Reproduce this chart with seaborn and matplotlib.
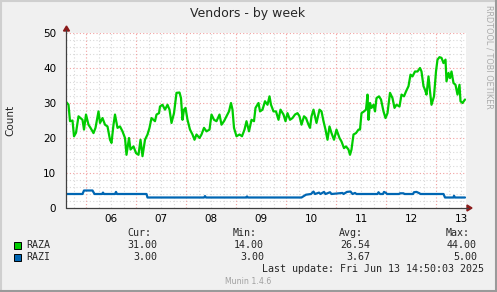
import numpy as np
import pandas as pd
import matplotlib
matplotlib.use("Agg")
import matplotlib.pyplot as plt
import seaborn as sns
from matplotlib.patches import Rectangle, Polygon
from matplotlib.lines import Line2D

# ---------------- data (time in fractional June days) ----------------
raza_t = [5.61, 5.65, 5.68, 5.73, 5.76, 5.80, 5.85, 5.89, 5.93, 5.96,
          6.00, 6.05, 6.09, 6.15, 6.19, 6.25, 6.28, 6.33, 6.38, 6.43,
          6.48, 6.51, 6.55, 6.58, 6.63, 6.68, 6.73, 6.78, 6.81, 6.86,
          6.89, 6.95, 7.00, 7.05, 7.09, 7.13, 7.18, 7.23, 7.27, 7.31,
          7.38, 7.41, 7.46,
          7.48, 7.53, 7.58, 7.63, 7.67, 7.71, 7.76, 7.81, 7.87, 7.90,
          7.93, 7.96, 7.99, 8.03, 8.08, 8.13, 8.17, 8.21, 8.27, 8.31,
          8.36, 8.41, 8.47, 8.51, 8.56, 8.61, 8.67, 8.71, 8.76, 8.81,
          8.86, 8.90, 8.93, 8.96, 9.01, 9.07, 9.12, 9.17, 9.21, 9.26,
          9.31, 9.36, 9.39, 9.45,
          9.48, 9.53, 9.58, 9.63, 9.67, 9.70, 9.75, 9.80, 9.85, 9.89,
          9.95, 9.99, 10.03, 10.08, 10.13, 10.18, 10.23, 10.27, 10.31, 10.36,
          10.40, 10.45, 10.48, 10.51, 10.55, 10.58, 10.61, 10.67, 10.71, 10.75,
          10.79, 10.83, 10.87, 10.91, 10.96, 11.01, 11.07, 11.11, 11.16, 11.20,
          11.25, 11.28, 11.31, 11.35, 11.40, 11.45,
          11.48, 11.51, 11.56, 11.60, 11.63, 11.65, 11.68, 11.71, 11.75, 11.78,
          11.81, 11.86, 11.90, 11.95, 11.99, 12.03, 12.08, 12.13, 12.17, 12.21,
          12.27, 12.31, 12.36, 12.40, 12.45, 12.49, 12.53, 12.58, 12.63, 12.68,
          12.71, 12.75, 12.78, 12.81, 12.85, 12.88, 12.91, 12.96, 13.00, 13.03,
          13.07, 13.11, 13.15, 13.19, 13.21, 13.25, 13.28, 13.31, 13.35, 13.39,
          13.43, 13.47, 13.49, 13.53, 13.58]
raza_v = [30.2, 29.5, 24.8, 25.0, 20.5, 21.5, 26.2, 25.7, 25.2, 22.4,
          26.7, 23.8, 22.9, 21.4, 22.9, 27.6, 24.3, 25.7, 23.8, 23.3,
          19.5, 18.6, 23.8, 26.7, 22.9, 23.3, 21.9, 20.0, 15.2, 20.0,
          16.7, 17.6, 15.7, 15.2, 19.5, 14.8, 19.5, 21.0, 22.9, 25.7,
          24.8, 26.7, 27.1,
          29.0, 29.5, 28.1, 29.5, 28.1, 24.3, 27.1, 32.9, 33.0, 31.4,
          25.2, 28.1, 28.6, 25.2, 22.4, 21.0, 19.5, 21.0, 20.0, 21.0,
          22.9, 21.9, 22.4, 26.7, 25.2, 24.8, 26.7, 23.8, 24.8, 26.2,
          27.6, 30.0, 28.1, 22.9, 20.5, 21.0, 20.5, 22.4, 24.8, 21.9,
          25.2, 24.8, 28.6, 30.0,
          27.6, 28.1, 30.5, 29.5, 31.9, 29.5, 27.6, 27.6, 25.2, 28.1,
          26.7, 24.8, 27.1, 25.2, 25.7, 26.7, 27.1, 26.2, 23.8, 26.2,
          25.7, 23.8, 22.9, 26.2, 28.1, 26.2, 24.3, 28.1, 27.6, 24.8,
          22.4, 19.5, 23.3, 21.4, 19.5, 22.4, 20.0, 19.0, 17.1, 17.6,
          16.7, 15.2, 16.7, 21.0, 21.4, 22.4,
          22.4, 27.1, 27.6, 28.1, 32.4, 25.2, 30.0, 28.6, 29.5, 27.6,
          31.4, 31.9, 31.0, 27.6, 25.7, 27.1, 32.9, 31.4, 28.6, 29.5,
          29.0, 32.4, 31.9, 33.3, 34.8, 38.1, 37.6, 39.0, 39.0, 40.0,
          39.0, 34.8, 33.8, 32.4, 37.6, 33.3, 29.5, 31.9, 39.0, 42.4,
          43.1, 42.9, 41.4, 42.4, 36.2, 38.6, 37.1, 39.0, 35.7, 35.2,
          32.4, 35.2, 30.5, 30.0, 31.0]

razi_t = [5.60, 5.93, 5.96, 6.13, 6.17, 6.32, 6.34, 6.36, 6.58, 6.60,
          6.62, 7.21, 7.23, 8.36, 8.38, 8.40, 9.21, 9.22, 9.24, 10.31,
          10.40, 10.50, 10.55, 10.58, 10.66, 10.69, 10.76, 10.79, 10.88, 10.91,
          11.13, 11.15, 11.22, 11.29, 11.33, 11.38, 11.41, 11.83, 11.85, 11.88,
          11.94, 11.96, 12.00, 12.02, 12.26, 12.28, 12.35, 12.37, 12.54, 12.56,
          12.61, 12.67, 12.69, 13.15, 13.18, 13.35, 13.36, 13.38, 13.58]
razi_v = [4.0, 4.0, 5.0, 5.0, 4.0, 4.0, 4.4, 4.0, 4.0, 4.6,
          4.0, 4.0, 3.0, 3.0, 3.4, 3.0, 3.0, 3.3, 3.0, 3.0,
          3.8, 4.0, 4.7, 4.0, 4.4, 4.0, 4.6, 4.0, 4.5, 4.0,
          4.3, 4.0, 4.6, 4.7, 4.0, 4.3, 4.0, 4.0, 4.5, 4.0,
          4.0, 4.6, 4.3, 4.0, 4.0, 4.2, 4.2, 4.0, 4.0, 4.5,
          4.6, 4.2, 4.0, 4.0, 3.0, 3.0, 3.5, 3.0, 3.0]

day_ticks = [6.5, 7.5, 8.5, 9.5, 10.5, 11.5, 12.5, 13.5]
day_labels = ["06", "07", "08", "09", "10", "11", "12", "13"]
y_ticks = [0, 10, 20, 30, 40, 50]

series_names = ["RAZA", "RAZI"]
series_colors = ["#00CC00", "#0066B3"]
stat_cur = ["31.00", "3.00"]
stat_min = ["14.00", "3.00"]
stat_avg = ["26.54", "3.67"]
stat_max = ["44.00", "5.00"]

# ---------------- figure ----------------
sns.set_style("white")
plt.rcParams['font.family'] = ['DejaVu Sans']

W, H = 497, 292
fig = plt.figure(figsize=(W / 100, H / 100), dpi=100, facecolor="#F0F0F0")

def fx(x):
    return x / W

def fy(y):
    return 1 - y / H

ax = fig.add_axes([fx(66), fy(208), 400 / W, 175 / H])
ax.set_facecolor("white")
ax.set_xlim(5.6, 13.6)
ax.set_ylim(0, 50)

# grid
for g in np.arange(5.75, 13.6, 0.25):
    if abs(g - round(g)) > 1e-6:
        ax.axvline(g, color="#D8D8D8", lw=0.8, ls=(0, (1, 2)), zorder=0)
for g in np.arange(2, 50, 2):
    if g % 10 != 0:
        ax.axhline(g, color="#D8D8D8", lw=0.8, ls=(0, (1, 2)), zorder=0)
for g in range(6, 14):
    ax.axvline(g, color="#F2A0A0", lw=0.8, ls=(0, (1, 2)), zorder=0.5)
for g in [10, 20, 30, 40, 50]:
    ax.axhline(g, color="#F2A0A0", lw=0.8, ls=(0, (1, 2)), zorder=0.5)

df_a = pd.DataFrame({"t": raza_t, "v": raza_v})
df_i = pd.DataFrame({"t": razi_t, "v": razi_v})
sns.lineplot(data=df_a, x="t", y="v", ax=ax, color=series_colors[0], lw=1.6,
             estimator=None, sort=False, zorder=3)
sns.lineplot(data=df_i, x="t", y="v", ax=ax, color=series_colors[1], lw=1.6,
             estimator=None, sort=False, zorder=3)

ax.set_xlabel("")
ax.set_ylabel("")
ax.set_xticks(day_ticks)
ax.set_xticklabels(day_labels)
ax.set_yticks(y_ticks)
ax.set_yticklabels([str(v) for v in y_ticks])
ax.tick_params(axis="both", length=0, labelsize=7.5, colors="black")
ax.tick_params(axis="x", pad=4)
ax.tick_params(axis="y", pad=7)
for s in ax.spines.values():
    s.set_visible(False)

# axis lines + arrows
fig.add_artist(Line2D([fx(66), fx(66)], [fy(208), fy(30)], color="#404040", lw=0.9))
fig.add_artist(Line2D([fx(66), fx(468)], [fy(208), fy(208)], color="#404040", lw=0.9))
fig.add_artist(Polygon([[fx(63.5), fy(31)], [fx(69.5), fy(31)], [fx(66.5), fy(26)]],
                       closed=True, color="#8B1A1A"))
fig.add_artist(Polygon([[fx(467), fy(205)], [fx(467), fy(211)], [fx(472), fy(208)]],
                       closed=True, color="#8B1A1A"))

# title and labels
fig.text(fx(248), fy(14), "Vendors - by week", ha="center", va="center", fontsize=9)
fig.text(fx(10), fy(120), "Count", ha="center", va="center", rotation=90, fontsize=7.5)
fig.text(fx(489), fy(5), "RRDTOOL / TOBI OETIKER", ha="center", va="top",
         rotation=270, fontsize=5.9, color="#ABABAB")

# legend block
mono = "DejaVu Sans Mono"
fs = 7.2
hdr_y = fy(233.5)
for xr, lab in [(151, "Cur:"), (257, "Min:"), (363, "Avg:"), (470, "Max:")]:
    fig.text(fx(xr), hdr_y, lab, ha="right", va="center", family=mono, fontsize=fs)
rows_y = [244.5, 256.5]
for i, name in enumerate(series_names):
    yy = rows_y[i]
    fig.add_artist(Rectangle((fx(13.5), fy(yy + 4)), 7 / W, 7 / H,
                             facecolor=series_colors[i], edgecolor="black", lw=0.7))
    fig.text(fx(26.5), fy(yy), name, ha="left", va="center", family=mono, fontsize=fs)
    for xr, vals in [(157.5, stat_cur), (264, stat_min), (370.5, stat_avg), (477, stat_max)]:
        fig.text(fx(xr), fy(yy), vals[i], ha="right", va="center", family=mono, fontsize=fs)

fig.text(fx(483.5), fy(268.5), "Last update: Fri Jun 13 14:50:03 2025", ha="right",
         va="center", family=mono, fontsize=fs)
fig.text(fx(248), fy(281.5), "Munin 1.4.6", ha="center", va="center", fontsize=5.6,
         color="#A0A0A0")

# 3D frame
fig.add_artist(Line2D([0, 1], [fy(0.5), fy(0.5)], color="#CFCFCF", lw=1.5))
fig.add_artist(Line2D([fx(0.5), fx(0.5)], [0, 1], color="#CFCFCF", lw=1.5))
fig.add_artist(Line2D([0, 1], [fy(291), fy(291)], color="#9A9A9A", lw=1.5))
fig.add_artist(Line2D([fx(496), fx(496)], [0, 1], color="#9A9A9A", lw=1.5))

fig.savefig("out.png", dpi=100, facecolor=fig.get_facecolor())
